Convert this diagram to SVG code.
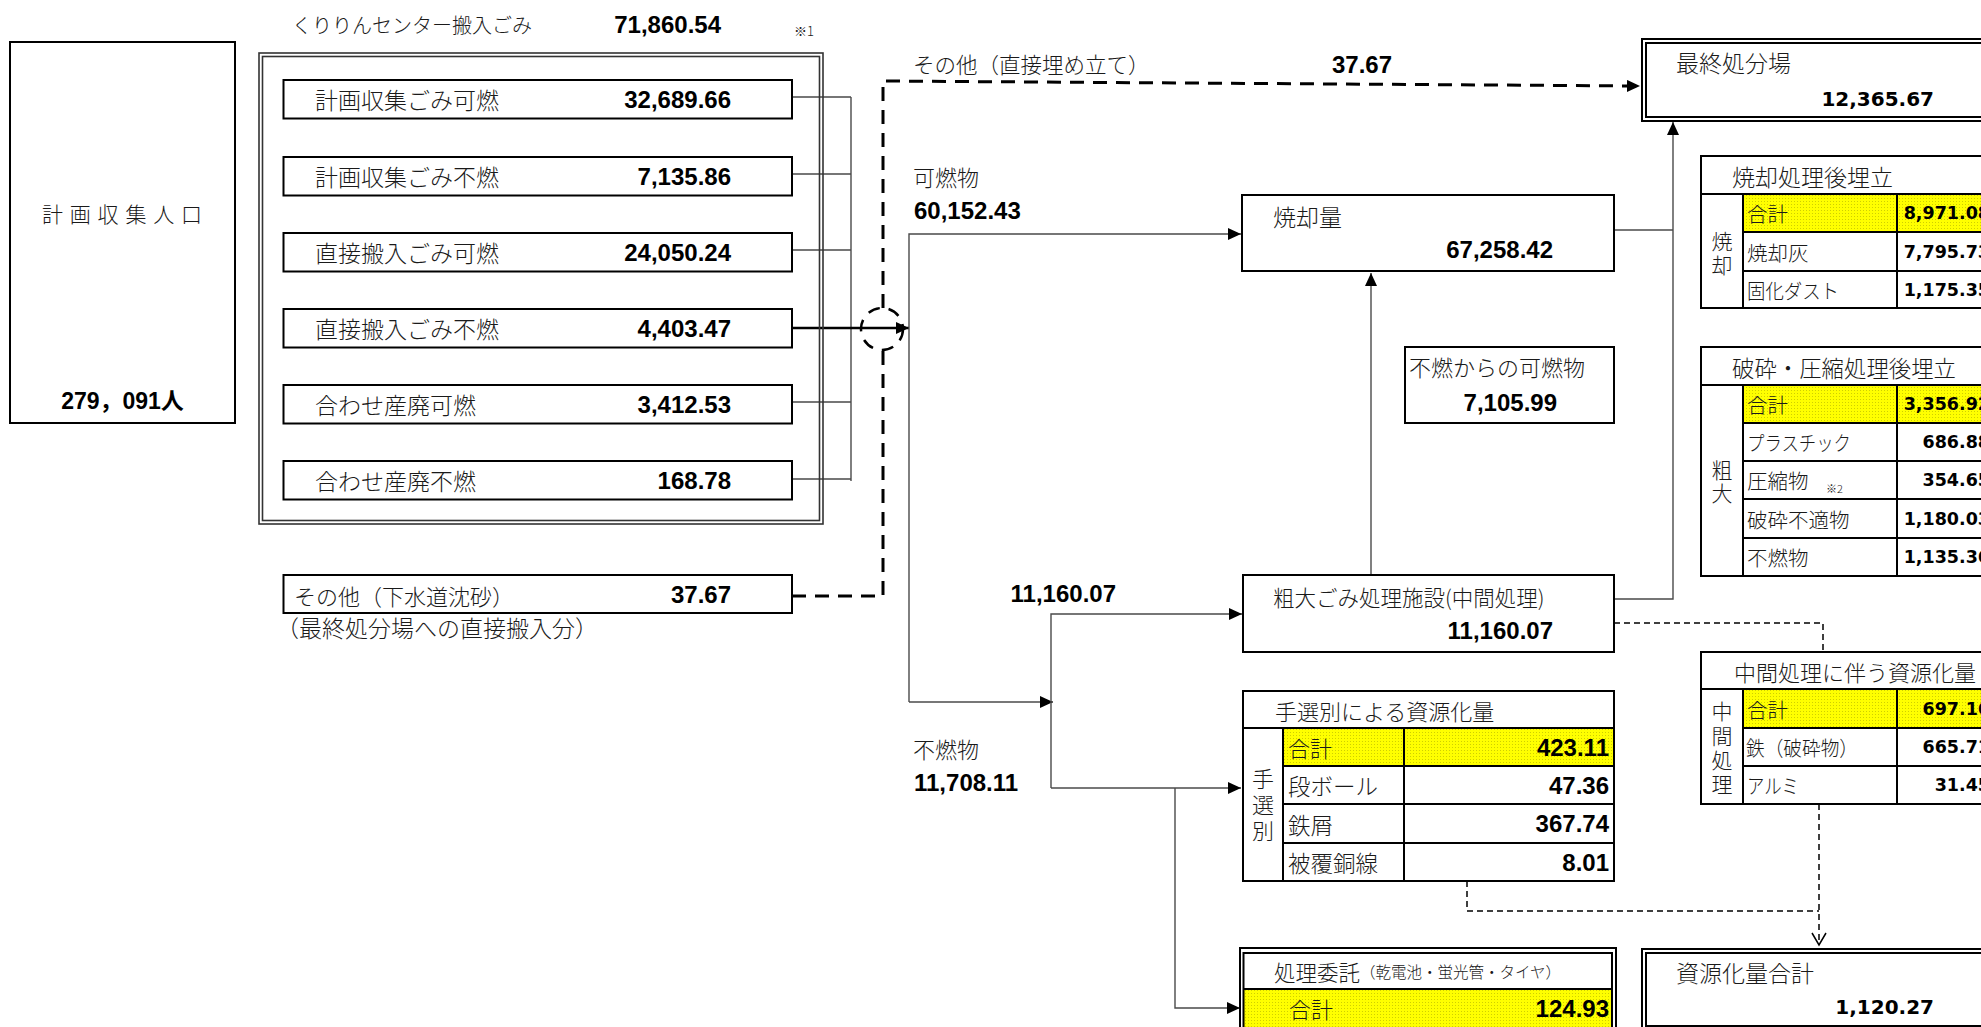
<svg xmlns="http://www.w3.org/2000/svg" width="1981" height="1027" viewBox="0 0 1981 1027">
<defs>
<style>
.box{fill:#fff;stroke:#000;stroke-width:2}
.fr{fill:none;stroke:#000;stroke-width:2}
.gl{fill:none;stroke:#000;stroke-width:2}
.c{fill:none;stroke:#4a4a4a;stroke-width:1.4}
.ck{fill:none;stroke:#000;stroke-width:2.5}
.dk{fill:none;stroke:#000;stroke-width:3;stroke-dasharray:14 9}
.dt{fill:none;stroke:#000;stroke-width:1.5;stroke-dasharray:6 4}
.jp{font-family:"Noto Sans CJK JP","Noto Sans CJK SC",sans-serif;font-weight:300;fill:#1a1a1a;dominant-baseline:central}
.n{font-family:"Liberation Sans",Arial,"Noto Sans CJK JP",sans-serif;font-weight:700;font-size:24px;fill:#000;dominant-baseline:central}
.d{font-family:"DejaVu Sans",sans-serif;font-weight:700;font-size:17.5px;fill:#000;dominant-baseline:central;text-anchor:end}
.e{text-anchor:end}
.m{text-anchor:middle}
</style>
<marker id="ah" markerWidth="13" markerHeight="12" refX="13" refY="6" orient="auto" markerUnits="userSpaceOnUse"><path d="M0,0 L13,6 L0,12 z" fill="#000"/></marker>
<marker id="av" markerWidth="16" markerHeight="16" refX="13" refY="8" orient="auto" markerUnits="userSpaceOnUse"><path d="M1,1 L13,8 L1,15" fill="none" stroke="#000" stroke-width="1.5"/></marker>
<pattern id="yl" width="3" height="3" patternUnits="userSpaceOnUse"><rect width="3" height="3" fill="#ffff00"/><rect width="1" height="1" fill="#cfcf00"/></pattern>
</defs>
<rect width="1981" height="1027" fill="#fff"/>

<g id="connectors">
<path class="c" d="M792,97 H851 M792,174 H851 M792,250 H851 M792,402 H851 M792,479 H851 M851,97 V481"/>
<path class="ck" d="M792,328 H909" marker-end="url(#ah)"/>
<path class="c" d="M909,702 V234 H1241" marker-end="url(#ah)"/>
<path class="c" d="M909,702 H1053" marker-end="url(#ah)"/>
<path class="c" d="M1051,788 V614 H1242" marker-end="url(#ah)"/>
<path class="c" d="M1051,788 H1241" marker-end="url(#ah)"/>
<path class="c" d="M1175,788 V1008 H1240" marker-end="url(#ah)"/>
<path class="c" d="M1371,575 V273" marker-end="url(#ah)"/>
<path class="c" d="M1614,230 H1673"/>
<path class="c" d="M1614,599 H1673 V122" marker-end="url(#ah)"/>
<path class="dk" d="M792,596 H883 V350"/>
<path class="dk" d="M883,308 V81 L1640,86" marker-end="url(#ah)"/>
<circle cx="882" cy="329" r="21" fill="none" stroke="#000" stroke-width="2.5" stroke-dasharray="12 9"/>
<path class="dt" d="M1614,623 H1823 V652"/>
<path class="dt" d="M1467,881 V911 H1819"/>
<path class="dt" d="M1819,804 V945" marker-end="url(#av)"/>
</g>

<g id="population">
<rect class="box" x="10" y="42" width="225" height="381"/>
<text class="jp" x="42" y="213" style="font-size:21px" textLength="160" lengthAdjust="spacing">計画収集人口</text>
<text class="n m" x="122.5" y="401" style="font-size:23px">279，091人</text>
</g>

<g id="kuririn">
<text class="jp" x="292" y="24" font-size="20" textLength="240" lengthAdjust="spacingAndGlyphs">くりりんセンター搬入ごみ</text>
<text class="n e" x="721" y="24">71,860.54</text>
<text class="jp" x="794" y="30" font-size="13">※1</text>
<rect x="259" y="53" width="564" height="471" fill="none" stroke="#333" stroke-width="1.6"/>
<rect x="262.5" y="56.5" width="557" height="464" fill="none" stroke="#333" stroke-width="1.6"/>
</g>

<g id="in1"><rect class="box" x="283.5" y="80" width="508.5" height="38.5"/><text class="jp" x="315" y="99" font-size="23">計画収集ごみ可燃</text><text class="n e" x="731" y="99">32,689.66</text></g>
<g id="in2"><rect class="box" x="283.5" y="157" width="508.5" height="38.5"/><text class="jp" x="315" y="176" font-size="23">計画収集ごみ不燃</text><text class="n e" x="731" y="176">7,135.86</text></g>
<g id="in3"><rect class="box" x="283.5" y="233" width="508.5" height="38.5"/><text class="jp" x="315" y="252" font-size="23">直接搬入ごみ可燃</text><text class="n e" x="731" y="252">24,050.24</text></g>
<g id="in4"><rect class="box" x="283.5" y="309" width="508.5" height="38.5"/><text class="jp" x="315" y="328" font-size="23">直接搬入ごみ不燃</text><text class="n e" x="731" y="328">4,403.47</text></g>
<g id="in5"><rect class="box" x="283.5" y="385" width="508.5" height="38.5"/><text class="jp" x="315" y="404" font-size="23">合わせ産廃可燃</text><text class="n e" x="731" y="404">3,412.53</text></g>
<g id="in6"><rect class="box" x="283.5" y="461" width="508.5" height="38.5"/><text class="jp" x="315" y="480" font-size="23">合わせ産廃不燃</text><text class="n e" x="731" y="480">168.78</text></g>

<g id="sonota-gesui">
<rect class="box" x="283.5" y="575" width="508.5" height="38"/>
<text class="jp" x="294" y="595" font-size="22">その他（下水道沈砂）</text>
<text class="n e" x="731" y="594">37.67</text>
<text class="jp" x="276" y="627" font-size="23">（最終処分場への直接搬入分）</text>
</g>

<g id="labels">
<text class="jp" x="913" y="63" font-size="21.5">その他（直接埋め立て）</text>
<text class="n" x="1332" y="64">37.67</text>
<text class="jp" x="913" y="176" font-size="22">可燃物</text>
<text class="n" x="914" y="210">60,152.43</text>
<text class="n e" x="1116" y="593">11,160.07</text>
<text class="jp" x="913" y="748" font-size="22">不燃物</text>
<text class="n" x="914" y="782">11,708.11</text>
</g>

<g id="shokyaku">
<rect class="box" x="1242" y="195" width="372" height="76"/>
<text class="jp" x="1273" y="216" font-size="23">焼却量</text>
<text class="n e" x="1553" y="249">67,258.42</text>
</g>

<g id="funen-kanen">
<rect class="box" x="1405" y="347" width="209" height="76"/>
<text class="jp" x="1409" y="366" font-size="22">不燃からの可燃物</text>
<text class="n e" x="1557" y="402">7,105.99</text>
</g>

<g id="sodai">
<rect class="box" x="1243" y="575" width="371" height="77"/>
<text class="jp" x="1273" y="596" font-size="21.5">粗大ごみ処理施設(中間処理)</text>
<text class="n e" x="1553" y="630">11,160.07</text>
</g>

<g id="tesenbetsu">
<rect class="box" x="1243" y="691" width="371" height="190"/>
<rect x="1283" y="728" width="331" height="38" fill="url(#yl)"/>
<path class="gl" d="M1243,728 H1614 M1283,766 H1614 M1283,804 H1614 M1283,843 H1614 M1283,728 V881 M1404,728 V881"/>
<rect class="fr" x="1243" y="691" width="371" height="190"/>
<text class="jp" x="1275" y="710" font-size="22">手選別による資源化量</text>
<text class="jp m" font-size="22"><tspan x="1263" y="777">手</tspan><tspan x="1263" y="803">選</tspan><tspan x="1263" y="829">別</tspan></text>
<text class="jp" x="1288" y="747" font-size="22">合計</text>
<text class="jp" x="1288" y="785" font-size="22.5">段ボール</text>
<text class="jp" x="1288" y="823.5" font-size="22.5">鉄屑</text>
<text class="jp" x="1288" y="862" font-size="22.5">被覆銅線</text>
<text class="n e" x="1609" y="747">423.11</text>
<text class="n e" x="1609" y="785">47.36</text>
<text class="n e" x="1609" y="823.5">367.74</text>
<text class="n e" x="1609" y="862">8.01</text>
</g>

<g id="itaku">
<rect x="1243" y="989" width="369" height="50" fill="url(#yl)"/>
<rect class="fr" x="1240" y="948" width="376" height="95"/>
<rect class="fr" x="1243.5" y="953" width="368.5" height="88"/>
<path class="gl" d="M1243,989 H1612"/>
<text class="jp" x="1274" y="971" font-size="21.5">処理委託<tspan font-size="15.5">（乾電池・蛍光管・タイヤ）</tspan></text>
<text class="jp" x="1289" y="1008" font-size="22">合計</text>
<text class="n e" x="1609" y="1008">124.93</text>
</g>

<g id="saishu">
<rect x="1642" y="39" width="400" height="82" fill="#fff" stroke="#000" stroke-width="2"/>
<rect class="fr" x="1646" y="43" width="400" height="74"/>
<text class="jp" x="1676" y="62" font-size="23">最終処分場</text>
<text class="d" x="1934" y="99" style="font-size:20px">12,365.67</text>
</g>

<g id="shokyaku-umetate">
<rect class="box" x="1701" y="156" width="320" height="152"/>
<rect x="1743" y="194" width="290" height="38" fill="url(#yl)"/>
<path class="gl" d="M1701,194 H2021 M1743,232 H2021 M1743,271 H2021 M1743,194 V308 M1897,194 V308"/>
<rect class="fr" x="1701" y="156" width="320" height="152"/>
<text class="jp" x="1732" y="176" font-size="23">焼却処理後埋立</text>
<text class="jp m" font-size="21"><tspan x="1722" y="240">焼</tspan><tspan x="1722" y="264">却</tspan></text>
<text class="jp" x="1747" y="213" font-size="20.5">合計</text>
<text class="jp" x="1747" y="251.5" font-size="20.5">焼却灰</text>
<text class="jp" x="1747" y="289.5" font-size="20.5" textLength="92" lengthAdjust="spacingAndGlyphs">固化ダスト</text>
<text class="d" x="1990" y="213">8,971.08</text>
<text class="d" x="1990" y="251.5">7,795.73</text>
<text class="d" x="1990" y="289.5">1,175.35</text>
</g>

<g id="hasai-umetate">
<rect class="box" x="1701" y="347" width="320" height="229"/>
<rect x="1743" y="385" width="290" height="38" fill="url(#yl)"/>
<path class="gl" d="M1701,385 H2021 M1743,423 H2021 M1743,461 H2021 M1743,499 H2021 M1743,538 H2021 M1743,385 V576 M1897,385 V576"/>
<rect class="fr" x="1701" y="347" width="320" height="229"/>
<text class="jp" x="1732" y="367" font-size="23" textLength="224" lengthAdjust="spacingAndGlyphs">破砕・圧縮処理後埋立</text>
<text class="jp m" font-size="21"><tspan x="1722" y="469">粗</tspan><tspan x="1722" y="492">大</tspan></text>
<text class="jp" x="1747" y="404" font-size="20.5">合計</text>
<text class="jp" x="1747" y="442" font-size="20.5" textLength="104" lengthAdjust="spacingAndGlyphs">プラスチック</text>
<text class="jp" x="1747" y="480" font-size="20.5">圧縮物</text>
<text class="jp" x="1826" y="488" font-size="11">※2</text>
<text class="jp" x="1747" y="518.5" font-size="20.5">破砕不適物</text>
<text class="jp" x="1747" y="557" font-size="20.5">不燃物</text>
<text class="d" x="1990" y="404">3,356.92</text>
<text class="d" x="1990" y="442">686.88</text>
<text class="d" x="1990" y="480">354.65</text>
<text class="d" x="1990" y="518.5">1,180.03</text>
<text class="d" x="1990" y="557">1,135.36</text>
</g>

<g id="chukan-shigen">
<rect class="box" x="1701" y="652" width="320" height="152"/>
<rect x="1743" y="689" width="290" height="39" fill="url(#yl)"/>
<path class="gl" d="M1701,689 H2021 M1743,728 H2021 M1743,766 H2021 M1743,689 V804 M1897,689 V804"/>
<rect class="fr" x="1701" y="652" width="320" height="152"/>
<text class="jp" x="1734" y="671" font-size="22">中間処理に伴う資源化量</text>
<text class="jp m" font-size="21"><tspan x="1722" y="710">中</tspan><tspan x="1722" y="735">間</tspan><tspan x="1722" y="759">処</tspan><tspan x="1722" y="783">理</tspan></text>
<text class="jp" x="1747" y="708.5" font-size="20.5">合計</text>
<text class="jp" x="1746" y="747" font-size="20.5" textLength="112" lengthAdjust="spacingAndGlyphs">鉄（破砕物）</text>
<text class="jp" x="1747" y="785" font-size="20.5" textLength="52" lengthAdjust="spacingAndGlyphs">アルミ</text>
<text class="d" x="1990" y="708.5">697.16</text>
<text class="d" x="1990" y="747">665.71</text>
<text class="d" x="1990" y="785">31.45</text>
</g>

<g id="shigen-total">
<rect x="1642" y="949" width="400" height="95" fill="#fff" stroke="#000" stroke-width="2"/>
<rect class="fr" x="1646" y="953" width="400" height="73"/>
<text class="jp" x="1676" y="972" font-size="23">資源化量合計</text>
<text class="d" x="1934" y="1007" style="font-size:20px">1,120.27</text>
</g>
</svg>
